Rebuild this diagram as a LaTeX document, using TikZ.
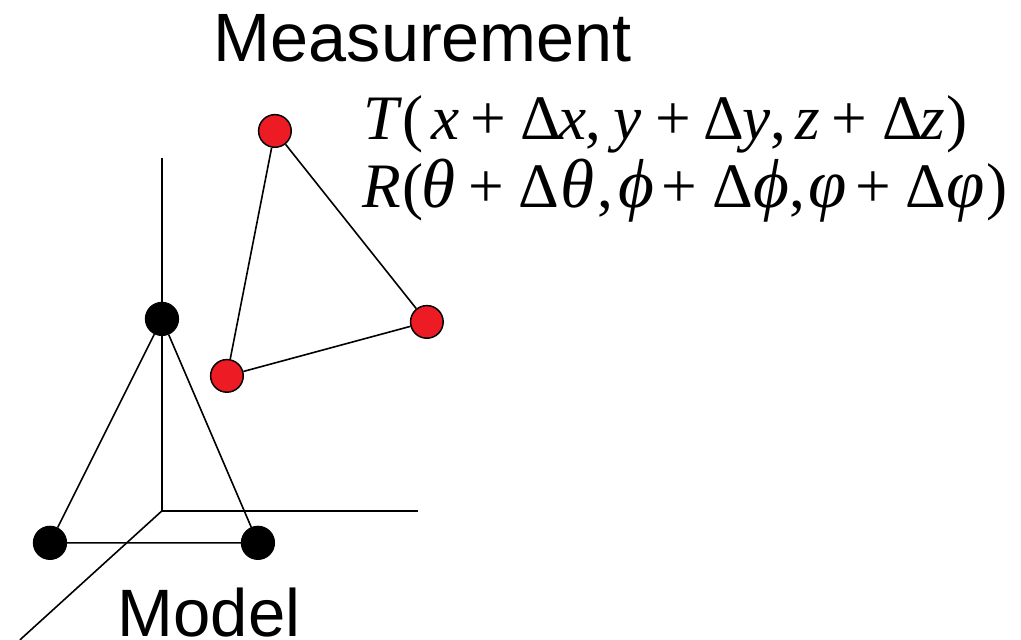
\documentclass[tikz,border=0pt]{standalone}
\usepackage{fontspec}
\setmainfont{Liberation Serif}
\newfontfamily\labelfont{Liberation Sans}
\definecolor{dotfill}{RGB}{237,28,36}
\newcommand{\G}[2]{\rlap{\hspace{\dimexpr(#1pt-362pt)*3/4\relax}#2}}
\newcommand{\I}[1]{\textit{#1}}
\newcommand{\K}[1]{{\fontsize{52}{52}\selectfont\itshape #1}}
\begin{document}
\begin{tikzpicture}[x=1pt,y=-1pt,
  dotblack/.style={circle,draw=black,fill=black,line width=0.7pt,minimum size=25pt,inner sep=0pt},
  dotred/.style={circle,draw=black,fill=dotfill,line width=1.1pt,minimum size=24.5pt,inner sep=0pt},
  lnk/.style={line width=1.2pt},
  lab/.style={font=\labelfont\fontsize{51.3}{51.3}\selectfont,inner sep=0pt,anchor=base},
  eq/.style={font=\fontsize{47.5}{47.5}\selectfont,inner sep=0pt,anchor=base west}]
\useasboundingbox (0,0) rectangle (766,480);
\begin{scope}[scale=0.75]
\coordinate (ztop) at (162,158);
\coordinate (o) at (162,511);
\coordinate (xe) at (418,511);
\coordinate (ye) at (20,640);
\draw[lnk] (ztop)--(o)--(xe);
\draw[lnk] (o)--(ye);
\node[dotblack] (m1) at (162,319) {};
\node[dotblack] (m2) at (50,543) {};
\node[dotblack] (m3) at (258,543) {};
\draw[lnk] (m1)--(m2)--(m3)--(m1);
\node[dotred] (r1) at (275,131) {};
\node[dotred] (r2) at (227,376) {};
\node[dotred] (r3) at (427,322) {};
\draw[lnk] (r1)--(r2)--(r3)--(r1);
\node[lab] (meas) at (423,62) {Measurement};
\node[lab,font=\labelfont\fontsize{50.3}{50.3}\selectfont] (mod) at (209,636.5) {Model};
\node[eq] (t) at (362,139.5) {\G{363}{\I{T}}\G{402}{(}\G{431}{\I{x}}\G{470}{+}\G{520}{Δ}\G{558}{\I{x}}\G{585}{,}\G{613}{\I{y}}\G{655}{+}\G{703}{Δ}\G{742}{\I{y}}\G{770}{,}\G{795}{\I{z}}\G{831}{+}\G{882}{Δ}\G{920}{\I{z}}\G{946}{)}};
\node[eq] (r) at (362,207.5) {\G{362}{\I{R}}\G{402}{(}\G{421}{\K{θ}}\G{468}{+}\G{518}{Δ}\G{560}{\K{θ}}\G{597}{,}\G{618}{\K{ϕ}}\G{661}{+}\G{712}{Δ}\G{753}{\K{ϕ}}\G{789}{,}\G{808}{\K{φ}}\G{855}{+}\G{905}{Δ}\G{946}{\K{φ}}\G{986}{)}};
\end{scope}
\end{tikzpicture}
\end{document}
